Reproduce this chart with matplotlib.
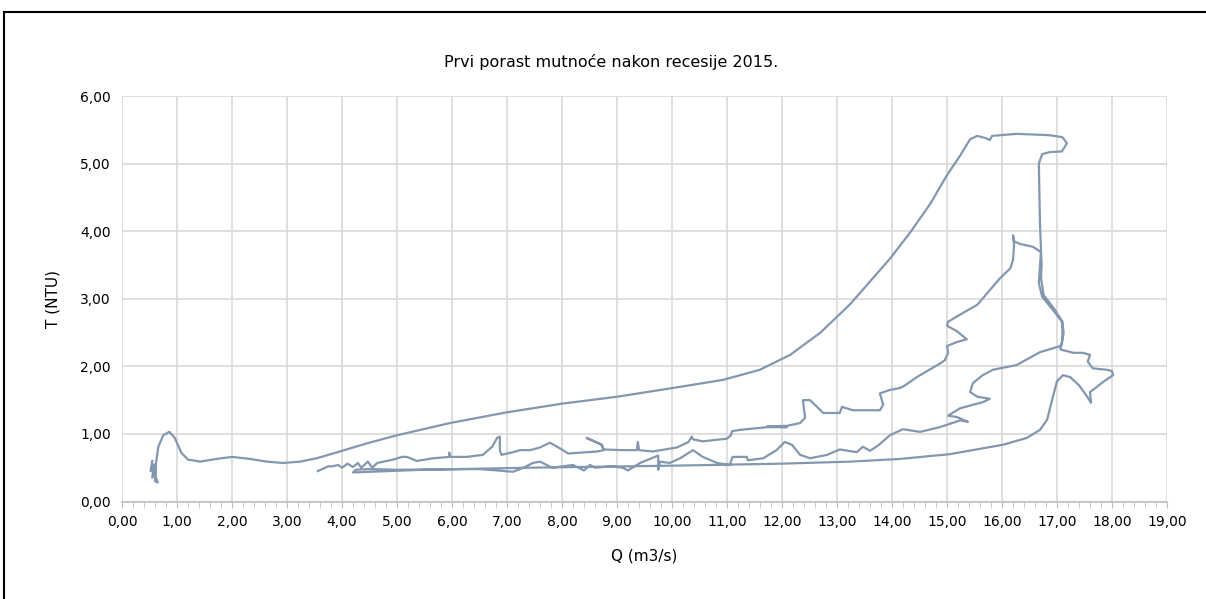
import numpy as np
import matplotlib.pyplot as plt
from matplotlib.ticker import MultipleLocator, FixedLocator, FixedFormatter
from matplotlib.lines import Line2D

# protok Q (m3/s) i mutnoca T (NTU), ocitano sa grafa
Q = [0.55, 0.52, 0.58, 0.55, 0.62, 0.60, 0.65, 0.60, 0.62,
     0.66, 0.75, 0.86, 0.96, 1.08, 1.20, 1.42, 1.72, 2.00, 2.33, 2.63, 2.93, 3.24, 3.54,
     3.96, 4.45, 5.00, 5.96, 7.00, 8.02, 9.00, 10.02, 10.93, 11.60, 12.15, 12.70, 13.24,
     13.97, 14.33, 14.70, 15.00, 15.24, 15.42, 15.55, 15.69, 15.78, 15.82, 16.27, 16.87,
     17.10, 17.18, 17.09, 16.87, 16.73, 16.67, 16.69, 16.71,
     16.67, 16.73, 16.93, 17.09, 17.10, 17.09, 17.06,
     17.30, 17.47, 17.60, 17.56, 17.65, 17.90, 18.00, 18.02, 17.84, 17.70, 17.60, 17.62,
     17.55, 17.40, 17.24, 17.11, 17.00, 16.91, 16.82, 16.69, 16.45, 16.02, 15.05, 14.15,
     13.24, 12.00, 10.00, 7.40, 5.50, 4.20,
     4.25, 4.50, 5.00, 6.50, 7.11, 7.30, 7.47, 7.60, 7.82, 8.20, 8.40, 8.51, 8.60, 8.90,
     9.10, 9.20, 9.42, 9.75, 9.75, 9.78, 9.96, 10.15, 10.38, 10.56, 10.82, 11.05, 11.10,
     11.36, 11.38, 11.66, 11.90, 12.05, 12.18, 12.33, 12.51, 12.82, 13.05, 13.36, 13.47,
     13.60, 13.75, 13.96, 14.20, 14.51, 14.87, 15.24, 15.38, 15.18, 15.02, 15.24, 15.65,
     15.78, 15.55, 15.42, 15.47, 15.65, 15.84, 16.27, 16.69, 17.06, 17.09,
     17.12, 17.10, 16.95, 16.76, 16.71, 16.72, 16.71,
     16.56, 16.33, 16.22, 16.20, 16.22, 16.20, 16.15, 15.96, 15.73, 15.55, 15.29, 15.02,
     15.00, 15.18, 15.36, 15.18, 15.00, 15.02, 14.96, 14.87, 14.45, 14.24, 14.15, 13.96,
     13.78, 13.84, 13.78, 13.29, 13.09, 13.05, 12.82, 12.75, 12.51, 12.38, 12.42, 12.33,
     12.09, 11.73, 12.09, 11.73, 11.24, 11.09, 11.07, 11.00, 10.56, 10.38, 10.36, 10.30,
     10.09, 9.65, 9.40, 9.38, 9.36, 9.10, 8.76, 8.72, 8.45, 8.72, 8.76,
     8.64, 8.11, 8.02, 7.78, 7.60, 7.42, 7.24, 7.11, 6.90, 6.87, 6.87, 6.82, 6.73, 6.56,
     6.27, 5.96, 5.95, 5.96, 5.66, 5.36, 5.18, 5.09, 4.93, 4.75, 4.64, 4.55, 4.47, 4.35,
     4.29, 4.20, 4.10, 4.00, 3.93, 3.82, 3.75, 3.56]
T = [0.60, 0.45, 0.55, 0.35, 0.50, 0.30, 0.28, 0.40, 0.58,
     0.81, 0.98, 1.03, 0.94, 0.72, 0.62, 0.59, 0.63, 0.66, 0.63, 0.59, 0.57, 0.59, 0.64,
     0.74, 0.86, 0.98, 1.16, 1.32, 1.45, 1.55, 1.68, 1.80, 1.95, 2.17, 2.50, 2.92,
     3.60, 3.98, 4.41, 4.83, 5.12, 5.36, 5.41, 5.38, 5.35, 5.41, 5.44, 5.42,
     5.39, 5.30, 5.18, 5.17, 5.14, 5.00, 4.12, 3.72,
     3.23, 3.03, 2.83, 2.66, 2.49, 2.35, 2.25,
     2.20, 2.20, 2.17, 2.07, 1.97, 1.95, 1.93, 1.87, 1.77, 1.68, 1.62, 1.46,
     1.55, 1.72, 1.84, 1.87, 1.78, 1.50, 1.21, 1.06, 0.94, 0.84, 0.70, 0.63,
     0.59, 0.56, 0.53, 0.50, 0.47, 0.43,
     0.47, 0.48, 0.47, 0.48, 0.44, 0.50, 0.57, 0.59, 0.50, 0.54, 0.46, 0.54, 0.50, 0.52,
     0.50, 0.46, 0.57, 0.68, 0.47, 0.59, 0.57, 0.64, 0.76, 0.66, 0.57, 0.54, 0.66,
     0.66, 0.61, 0.64, 0.76, 0.88, 0.84, 0.69, 0.64, 0.69, 0.77, 0.73, 0.81,
     0.75, 0.83, 0.98, 1.07, 1.03, 1.10, 1.20, 1.18, 1.25, 1.27, 1.38, 1.47,
     1.52, 1.55, 1.62, 1.75, 1.87, 1.95, 2.02, 2.21, 2.30, 2.35,
     2.49, 2.66, 2.85, 3.05, 3.30, 3.50, 3.69,
     3.77, 3.81, 3.85, 3.94, 3.80, 3.57, 3.45, 3.30, 3.08, 2.91, 2.79, 2.66,
     2.60, 2.52, 2.40, 2.36, 2.30, 2.20, 2.09, 2.04, 1.84, 1.72, 1.68, 1.65,
     1.60, 1.43, 1.35, 1.35, 1.40, 1.31, 1.31, 1.31, 1.50, 1.50, 1.24, 1.16,
     1.12, 1.11, 1.10, 1.10, 1.06, 1.04, 0.98, 0.93, 0.89, 0.92, 0.96, 0.88,
     0.80, 0.74, 0.76, 0.88, 0.76, 0.76, 0.77, 0.84, 0.94, 0.84, 0.76,
     0.74, 0.71, 0.76, 0.87, 0.80, 0.76, 0.76, 0.73, 0.69, 0.76, 0.96, 0.94, 0.81, 0.69,
     0.66, 0.66, 0.72, 0.66, 0.64, 0.60, 0.66, 0.66, 0.62, 0.59, 0.57, 0.50, 0.59, 0.50,
     0.57, 0.51, 0.56, 0.50, 0.54, 0.52, 0.52, 0.45]

x_ticks = np.arange(0, 20, 1)
y_ticks = np.arange(0, 7, 1)
x_labels = [f"{v:.2f}".replace('.', ',') for v in x_ticks]
y_labels = [f"{v:.2f}".replace('.', ',') for v in y_ticks]

fig = plt.figure(figsize=(12.06, 5.99), dpi=100)
ax = fig.add_axes([122/1206, 1 - 501.5/599, (1167 - 122)/1206, (501.5 - 96)/599])

ax.plot(Q, T, color='#8497B0', lw=1.6, solid_joinstyle='round')

ax.set_xlim(0, 19)
ax.set_ylim(0, 6)
ax.xaxis.set_major_locator(FixedLocator(x_ticks))
ax.xaxis.set_major_formatter(FixedFormatter(x_labels))
ax.xaxis.set_minor_locator(MultipleLocator(0.2))
ax.yaxis.set_major_locator(FixedLocator(y_ticks))
ax.yaxis.set_major_formatter(FixedFormatter(y_labels))
ax.grid(True, which='major', color='#D9D9D9', lw=1.2)
ax.set_axisbelow(True)
for s in ['top', 'right', 'left']:
    ax.spines[s].set_visible(False)
ax.spines['bottom'].set_color('#BFBFBF')
ax.spines['bottom'].set_linewidth(1.2)
ax.tick_params(axis='x', which='both', direction='out', color='#BFBFBF', labelsize=10, pad=6)
ax.tick_params(axis='x', which='major', length=4)
ax.tick_params(axis='x', which='minor', length=4)
ax.tick_params(axis='y', length=0, labelsize=10, pad=8)

ax.set_xlabel("Q (m3/s)", fontsize=11, labelpad=14)
ax.set_ylabel("T (NTU)", fontsize=11, labelpad=14)
fig.text(0.507, 0.896, "Prvi porast mutnoće nakon recesije 2015.", ha='center', va='center', fontsize=11.5)

# okvir grafikona
fig.add_artist(Line2D([4/1206, 1], [1 - 12/599, 1 - 12/599], color='black', lw=1.5))
fig.add_artist(Line2D([4/1206, 4/1206], [0, 1 - 12/599], color='black', lw=1.5))

fig.savefig("out.png", dpi=100)
